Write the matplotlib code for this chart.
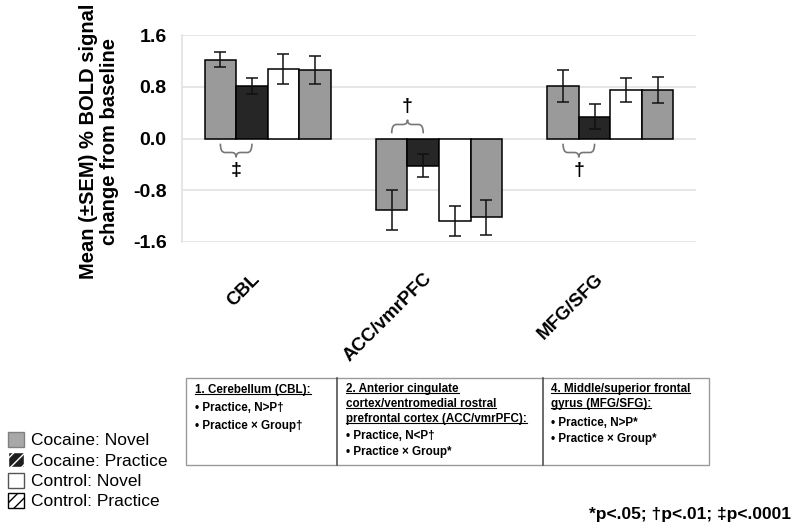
import matplotlib
matplotlib.use("Agg")
import matplotlib.pyplot as plt
from matplotlib.patches import Patch, PathPatch, Rectangle
from matplotlib.path import Path
from matplotlib.lines import Line2D
import numpy as np

plt.rcParams['font.family'] = ['Liberation Sans', 'DejaVu Sans']

# dados
regions = ['CBL', 'ACC/vmrPFC', 'MFG/SFG']
series_names = ['Cocaine: Novel', 'Cocaine: Practice', 'Control: Novel', 'Control: Practice']
coc_novel = [1.22, -1.10, 0.81]
coc_novel_sem = [0.12, 0.31, 0.25]
coc_prac = [0.81, -0.42, 0.34]
coc_prac_sem = [0.12, 0.18, 0.19]
ctl_novel = [1.07, -1.27, 0.75]
ctl_novel_sem = [0.23, 0.23, 0.18]
ctl_prac = [1.06, -1.22, 0.75]
ctl_prac_sem = [0.21, 0.27, 0.20]

yticks = [-1.6, -0.8, 0.0, 0.8, 1.6]
ytick_labels = ['-1.6', '-0.8', '0.0', '0.8', '1.6']

# marcas de significância: (região, símbolo, lado)
sig_marks = [(0, '\u2021', -1), (1, '\u2020', 1), (2, '\u2020', -1)]

table_cells = [
    ['1. Cerebellum (CBL):'],
    ['2. Anterior cingulate', 'cortex/ventromedial rostral', 'prefrontal cortex (ACC/vmrPFC):'],
    ['4. Middle/superior frontal', 'gyrus (MFG/SFG):'],
]
table_bullets = [
    ['\u2022 Practice, N>P\u2020', '\u2022 Practice \u00d7 Group\u2020'],
    ['\u2022 Practice, N<P\u2020', '\u2022 Practice \u00d7 Group*'],
    ['\u2022 Practice, N>P*', '\u2022 Practice \u00d7 Group*'],
]
footnote = '*p<.05; \u2020p<.01; \u2021p<.0001'

W, H = 800, 531
fig = plt.figure(figsize=(8, 5.31), dpi=100)
ax = fig.add_axes([182 / W, 1 - 242 / H, (696 - 182) / W, (242 - 35) / H])

values = [coc_novel, coc_prac, ctl_novel, ctl_prac]
sems = [coc_novel_sem, coc_prac_sem, ctl_novel_sem, ctl_prac_sem]
colors = ['#9a9a9a', '#262626', '#ffffff', '#9a9a9a']
x = np.arange(len(regions))
w = 0.184
for k in range(4):
    ax.bar(x + (k - 1.5) * w, values[k], w, yerr=sems[k], color=colors[k],
           edgecolor='black', linewidth=1.1, capsize=4.5,
           error_kw=dict(elinewidth=1.1, capthick=1.1, ecolor='#111111'), zorder=3)


def brace(ax, x1, x2, y0, h, color='#777777'):
    xm = (x1 + x2) / 2
    ym = y0 + h * 0.65
    yt = y0 + h
    dx = (x2 - x1) * 0.14
    verts = [(x1, y0), (x1, ym), (x1 + dx, ym), (xm - dx, ym), (xm, ym), (xm, yt),
             (xm, ym), (xm + dx, ym), (x2 - dx, ym), (x2, ym), (x2, y0)]
    codes = [Path.MOVETO, Path.CURVE3, Path.CURVE3, Path.LINETO, Path.CURVE3, Path.CURVE3,
             Path.CURVE3, Path.CURVE3, Path.LINETO, Path.CURVE3, Path.CURVE3]
    ax.add_patch(PathPatch(Path(verts, codes), fill=False, edgecolor=color, lw=1.2, zorder=4))


for i, sym, side in sig_marks:
    x1 = i - 1.5 * w
    x2 = i - 0.5 * w
    brace(ax, x1, x2, 0.08 * side, 0.21 * side)
    ax.text((x1 + x2) / 2, 0.5 * side, sym, ha='center', va='center',
            fontsize=14, fontweight='bold', zorder=4)

ax.set_xlim(-0.5, 2.5)
ax.set_ylim(-1.6, 1.6)
ax.set_yticks(yticks)
ax.set_yticklabels(ytick_labels, fontsize=14, fontweight='bold')
ax.tick_params(axis='y', length=0, pad=11)
ax.set_xticks([])
ax.yaxis.grid(True, color='#e2e2e2', lw=1.2)
ax.set_axisbelow(True)
for s in ['top', 'right', 'bottom']:
    ax.spines[s].set_visible(False)
ax.spines['left'].set_color('#e2e2e2')
ax.spines['left'].set_linewidth(1.2)

ax.set_ylabel('Mean (\u00b1SEM) % BOLD signal\nchange from baseline',
              fontsize=14.5, fontweight='bold', linespacing=1.1)
ax.yaxis.set_label_coords(-0.123, 0.485)

for i, name in enumerate(regions):
    ax.text(i - 0.058, -0.165, name, transform=ax.get_xaxis_transform(),
            rotation=45, rotation_mode='anchor', ha='right', va='center',
            fontsize=13.5, fontweight='bold')

# legenda
handles = [
    Patch(facecolor='#a8a8a8', edgecolor='#808080', lw=1),
    Patch(facecolor='#1e1e1e', edgecolor='white', hatch='///', lw=1),
    Patch(facecolor='white', edgecolor='#555555', lw=1),
    Patch(facecolor='white', edgecolor='black', hatch='///', lw=1),
]
fig.legend(handles, series_names, loc='upper left', bbox_to_anchor=(8 / W, 1 - 432 / H),
           frameon=False, fontsize=12.5, handlelength=0.95, handleheight=0.95,
           handletextpad=0.35, labelspacing=0.22, borderpad=0, borderaxespad=0)

# tabela
fig.add_artist(Rectangle((186 / W, 1 - 465 / H), (709 - 186) / W, (465 - 378) / H,
                         transform=fig.transFigure, fill=False, edgecolor='#9a9a9a', lw=1))
for xd in [337, 543]:
    fig.add_artist(Line2D([xd / W, xd / W], [1 - 378 / H, 1 - 465 / H],
                          transform=fig.transFigure, color='#444444', lw=1.1))

cell_x = [195, 346, 551]
head_y = [[390], [389, 404, 419], [389, 404]]
bullet_y = [[408, 426], [436, 452], [423, 439]]
heads = []
for c in range(3):
    for txt, yy in zip(table_cells[c], head_y[c]):
        t = fig.text(cell_x[c] / W, 1 - yy / H, txt, fontsize=8.4, fontweight='bold',
                     ha='left', va='center')
        heads.append(t)
    for txt, yy in zip(table_bullets[c], bullet_y[c]):
        fig.text(cell_x[c] / W, 1 - yy / H, txt, fontsize=8.4, fontweight='bold',
                 ha='left', va='center')

fig.text(791 / W, 1 - 514 / H, footnote, fontsize=12.5, fontweight='bold',
         ha='right', va='center')

# sublinhado dos títulos da tabela
fig.canvas.draw()
r = fig.canvas.get_renderer()
for t in heads:
    bb = t.get_window_extent(r)
    yl = bb.y0 + 2.2
    fig.add_artist(Line2D([bb.x0 / W, bb.x1 / W], [yl / H, yl / H],
                          transform=fig.transFigure, color='black', lw=0.8))

fig.savefig('out.png', dpi=100)
